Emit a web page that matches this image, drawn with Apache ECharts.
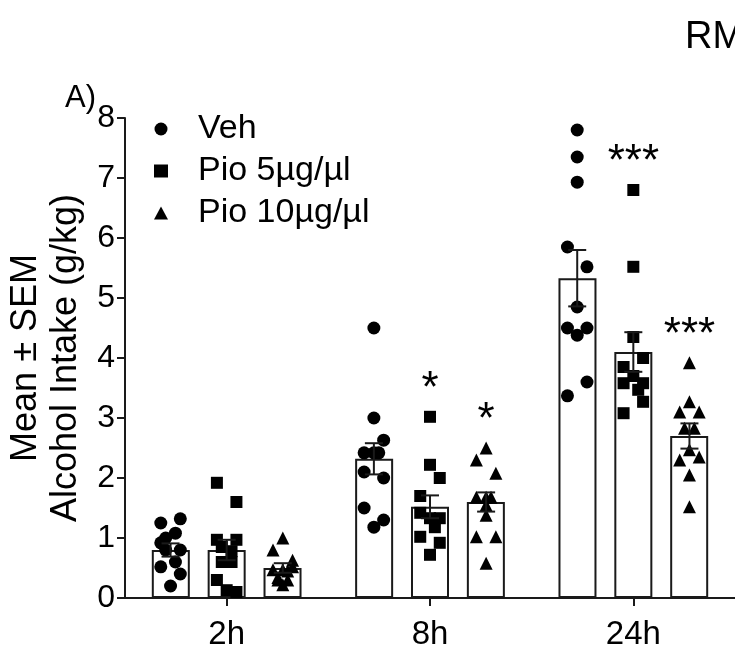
<!DOCTYPE html>
<html><head><meta charset="utf-8">
<script src="https://cdn.jsdelivr.net/npm/echarts@6/dist/echarts.min.js"></script>
<style>html,body{margin:0;padding:0;background:#fff}#c{width:735px;height:647px}</style>
</head><body><div id="c"></div>
<script>
// ---------- data ----------
const categories = ['2h', '8h', '24h'];
const groupNames = ['Veh', 'Pio 5µg/µl', 'Pio 10µg/µl'];
const yTicks = [0, 1, 2, 3, 4, 5, 6, 7, 8];

const vehMean = [0.8, 2.32, 5.33];
const pio5Mean = [0.8, 1.52, 4.1];
const pio10Mean = [0.5, 1.6, 2.7];

const vehSem = [0.11, 0.26, 0.47];
const pio5Sem = [0.17, 0.19, 0.33];
const pio10Sem = [0.08, 0.16, 0.21];

// individual animals per time point
const veh2h = [1.32, 1.25, 1.08, 1.0, 0.92, 0.8, 0.8, 0.6, 0.52, 0.4, 0.2];
const veh8h = [4.5, 3.0, 2.63, 2.42, 2.42, 2.42, 2.1, 2.0, 1.5, 1.3, 1.18];
const veh24h = [7.8, 7.35, 6.93, 5.85, 5.52, 4.85, 4.5, 4.5, 4.38, 3.6, 3.37];
const pio5_2h = [1.92, 1.6, 0.97, 0.97, 0.85, 0.78, 0.6, 0.6, 0.3, 0.13, 0.1];
const pio5_8h = [3.02, 2.22, 2.0, 1.7, 1.42, 1.33, 1.33, 1.18, 1.02, 0.92, 0.72];
const pio5_24h = [6.8, 5.52, 4.35, 4.0, 3.85, 3.7, 3.58, 3.58, 3.47, 3.27, 3.08];
const pio10_2h = [1.0, 0.8, 0.63, 0.52, 0.47, 0.47, 0.45, 0.34, 0.3, 0.3, 0.22];
const pio10_8h = [2.5, 2.3, 2.08, 1.68, 1.68, 1.68, 1.55, 1.38, 1.02, 1.02, 0.58];
const pio10_24h = [3.92, 3.27, 3.1, 3.1, 2.83, 2.83, 2.47, 2.35, 2.3, 2.05, 1.52];

// horizontal scatter lane of each point (-1 left, 0 centre, 1 right)
const veh2hLane = [1, -1, 0.5, -0.5, -1, 1, -0.5, 0.5, -1, 1, 0];
const veh8hLane = [0, 0, 1, -1, 0, 0.5, -1, 1, -1, 1, 0];
const veh24hLane = [0, 0, 0, -1, 1, 0, -1, 1, 0, 1, -1];
const pio5_2hLane = [-1, 1, -1, 1, -0.5, 0.5, -0.5, 0.5, -1, 0, 1];
const pio5_8hLane = [0, 0, 1, -1, -1, 0, 1, 0.5, -1, 1, 0];
const pio5_24hLane = [0, 0, 0, 1, -1, 0, -1, 1, 0.5, 1, -1];
const pio10_2hLane = [0, -1, 1, 1, -1, 0, 0.5, -0.5, -0.5, 0.5, 0];
const pio10_8hLane = [0, -1, 1, -1, 0, 0.5, 0, 0, -1, 1, 0];
const pio10_24hLane = [0, 0, -1, 1, -0.5, 0.5, 0, 1, -1, 0, 0];

const pio5Sig = ['', '*', '***'];
const pio10Sig = ['', '*', '***'];

// ---------- styling constants ----------
const FONT = 'Liberation Sans, Arial, sans-serif';
const INK = '#1a1a1a';
const BAR_W = 38;
const BAR_GAP = '47%';
const GROUP_STEP = 0.276;  // offset between bars in category units
const LANE_STEP = 0.048;   // jitter step in category units
const SIG_PAD = 0.6;

const groups = [
  { name: groupNames[0], mean: vehMean, sem: vehSem, pts: [veh2h, veh8h, veh24h], lanes: [veh2hLane, veh8hLane, veh24hLane], symbol: 'circle', size: 13, sig: null },
  { name: groupNames[1], mean: pio5Mean, sem: pio5Sem, pts: [pio5_2h, pio5_8h, pio5_24h], lanes: [pio5_2hLane, pio5_8hLane, pio5_24hLane], symbol: 'rect', size: 12, sig: pio5Sig },
  { name: groupNames[2], mean: pio10Mean, sem: pio10Sem, pts: [pio10_2h, pio10_8h, pio10_24h], lanes: [pio10_2hLane, pio10_8hLane, pio10_24hLane], symbol: 'triangle', size: 13, sig: pio10Sig }
];

const series = [];
groups.forEach((g, gi) => {
  series.push({
    name: g.name + ' mean', type: 'bar', xAxisIndex: 0, yAxisIndex: 0,
    data: g.mean, barWidth: BAR_W, barGap: BAR_GAP,
    itemStyle: { color: '#fff', borderColor: INK, borderWidth: 2 },
    z: 1, silent: true
  });
});
groups.forEach((g, gi) => {
  const data = [];
  g.pts.forEach((arr, ci) => {
    arr.forEach((v, k) => {
      data.push([ci + 0.5 + (gi - 1) * GROUP_STEP + g.lanes[ci][k] * LANE_STEP, v]);
    });
  });
  series.push({
    name: g.name, type: 'scatter', xAxisIndex: 1, yAxisIndex: 0,
    symbol: g.symbol, symbolSize: g.size, data: data,
    itemStyle: { color: '#000', opacity: 1 }, z: 3, silent: true
  });
});
groups.forEach((g, gi) => {
  const data = g.mean.map((m, ci) => [ci + 0.5 + (gi - 1) * GROUP_STEP, m - g.sem[ci], m + g.sem[ci]]);
  series.push({
    name: g.name + ' sem', type: 'custom', xAxisIndex: 1, yAxisIndex: 0, z: 4, silent: true,
    data: data,
    renderItem: function (params, api) {
      const lo = api.coord([api.value(0), api.value(1)]);
      const hi = api.coord([api.value(0), api.value(2)]);
      const hw = 9;
      const st = { stroke: INK, lineWidth: 2 };
      return { type: 'group', children: [
        { type: 'line', shape: { x1: lo[0], y1: lo[1], x2: hi[0], y2: hi[1] }, style: st },
        { type: 'line', shape: { x1: hi[0] - hw, y1: hi[1], x2: hi[0] + hw, y2: hi[1] }, style: st },
        { type: 'line', shape: { x1: lo[0] - hw, y1: lo[1], x2: lo[0] + hw, y2: lo[1] }, style: st }
      ] };
    }
  });
});
groups.forEach((g, gi) => {
  if (!g.sig) return;
  const data = [];
  g.sig.forEach((s, ci) => {
    if (!s) return;
    data.push({ value: [ci + 0.5 + (gi - 1) * GROUP_STEP, Math.max.apply(null, g.pts[ci]) + SIG_PAD], name: s });
  });
  series.push({
    name: g.name + ' sig', type: 'scatter', xAxisIndex: 1, yAxisIndex: 0, symbolSize: 0,
    itemStyle: { color: '#000' }, silent: true, z: 5, data: data,
    label: { show: true, position: 'inside', formatter: p => p.name, color: '#000', opacity: 1, fontFamily: FONT, fontSize: 44, fontWeight: 'normal', offset: [0, 9] }
  });
});

const chart = echarts.init(document.getElementById('c'), null, { renderer: 'canvas' });
chart.setOption({
  animation: false,
  backgroundColor: '#fff',
  grid: { left: 125, right: 0, top: 118, bottom: 49, containLabel: false, outerBoundsMode: 'none' },
  title: [
    { text: 'A)', left: 60, top: 78, textStyle: { fontFamily: FONT, fontWeight: 'normal', fontSize: 31, color: '#000' } },
    { text: 'RM', left: 680, top: 14, textStyle: { fontFamily: FONT, fontWeight: 'normal', fontSize: 38, color: '#000' } }
  ],
  legend: {
    data: groupNames, orient: 'vertical', left: 149, top: 107, itemGap: 8,
    itemWidth: 14, itemHeight: 13,
    textStyle: { fontFamily: FONT, fontSize: 34, color: '#000', padding: [0, 0, 0, 25] },
    itemStyle: { color: '#000' }, selectedMode: false
  },
  xAxis: [
    { type: 'category', data: categories, boundaryGap: true,
      axisLine: { show: true, lineStyle: { color: INK, width: 2 } },
      axisTick: { show: true, alignWithLabel: true, length: 8, lineStyle: { color: INK, width: 2 } },
      axisLabel: { fontFamily: FONT, fontSize: 33, color: '#000', margin: 20 },
      splitLine: { show: false } },
    { type: 'value', min: 0, max: categories.length, show: false, splitLine: { show: false } }
  ],
  yAxis: {
    type: 'value', min: yTicks[0], max: yTicks[yTicks.length - 1], interval: 1,
    name: 'Mean ± SEM\nAlcohol Intake (g/kg)', nameLocation: 'middle', nameGap: 33,
    nameTextStyle: { fontFamily: FONT, fontSize: 36, color: '#000', lineHeight: 40 },
    axisLine: { show: true, lineStyle: { color: INK, width: 2 } },
    axisTick: { show: true, length: 8, lineStyle: { color: INK, width: 2 } },
    axisLabel: { fontFamily: FONT, fontSize: 32, color: '#000', margin: 10 },
    splitLine: { show: false }
  },
  series: series
});
</script></body></html>
